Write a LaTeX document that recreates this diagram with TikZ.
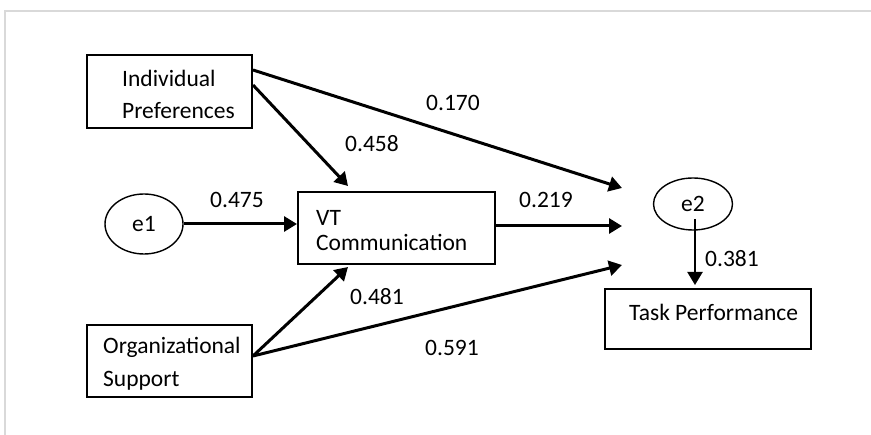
\documentclass[tikz,border=0pt]{standalone}
\usepackage{fontspec}
\setmainfont{Carlito}
\usetikzlibrary{arrows.meta,shapes.geometric,calc}

\tikzset{
  box/.style={draw=black, line width=2pt, rectangle, inner sep=0pt},
  txt/.style={inner sep=0pt, anchor=west, align=left},
  err/.style={draw=black, line width=1.4pt, ellipse, inner sep=0pt},
  coef/.style={inner sep=0pt},
  path/.style={line width=3pt, -{Triangle[length=13pt,width=15pt]}},
  frame/.style={draw=black!15, line width=2.5pt}
}

\begin{document}
\begin{tikzpicture}[x=1pt, y=-1pt, font=\fontsize{23.5}{28}\selectfont]
  \useasboundingbox (0,0) rectangle (871,435);
  \fill[white] (0,0) rectangle (871,435);

  % outer frame (top and left rules)
  \draw[frame] (871,11) -- (5,11) -- (5,435);

  % boxes
  \node[box, minimum width=165pt, minimum height=73pt] (ip) at (169.5,91.5) {};
  \node[txt, font=\fontsize{23.5}{32}\selectfont] (iptxt) at (122,94) {Individual\\Preferences};

  \node[box, minimum width=165pt, minimum height=72pt] (os) at (169.5,361) {};
  \node[txt, font=\fontsize{23.5}{33}\selectfont] (ostxt) at (103,363.5) {Organizational\\Support};

  \node[box, minimum width=197pt, minimum height=72pt] (vt) at (396.5,228) {};
  \node[txt, font=\fontsize{23.5}{25}\selectfont] (vttxt) at (316,230.5) {VT\\Communication};

  \node[box, minimum width=206pt, minimum height=60pt] (tp) at (708,319) {};
  \node[txt] (tptxt) at (629,312) {Task Performance};

  % error terms
  \node[err, minimum width=78pt, minimum height=60pt] (e1) at (144,224) {e1};
  \node[err, minimum width=79pt, minimum height=52pt] (e2) at (693,204) {e2};

  % connector end points
  \coordinate (ipA) at ($(ip.north east)+(0,16)$);
  \coordinate (ipB) at ($(ip.north east)+(0,31)$);
  \coordinate (osA) at ($(os.north east)+(0,32)$);
  \coordinate (vtIn1) at (348,186);
  \coordinate (vtIn2) at (348,267);
  \coordinate (tA) at (622,188);
  \coordinate (tB) at (622,226);
  \coordinate (tC) at (622,265);
  \coordinate (e2out) at ($(e2.center)+(2,15)$);

  % paths
  \draw[path] (ipA) -- (tA);
  \draw[path] (ipB) -- (vtIn1);
  \draw[path] (e1.east) -- (e1.east -| vt.west);
  \draw[path] (vt.east |- tB) -- (tB);
  \draw[path] (osA) -- (vtIn2);
  \draw[path] (osA) -- (tC);
  \draw[path, line width=2.2pt, shorten >=3pt] (e2out) -- (e2out |- tp.north);

  % path coefficients
  \node[coef] (c170) at (453,103) {0.170};
  \node[coef] (c458) at (372,144) {0.458};
  \node[coef] (c475) at (237,200) {0.475};
  \node[coef] (c219) at (546,200) {0.219};
  \node[coef] (c481) at (377,297) {0.481};
  \node[coef] (c591) at (452,348) {0.591};
  \node[coef] (c381) at (732,259) {0.381};
\end{tikzpicture}
\end{document}
